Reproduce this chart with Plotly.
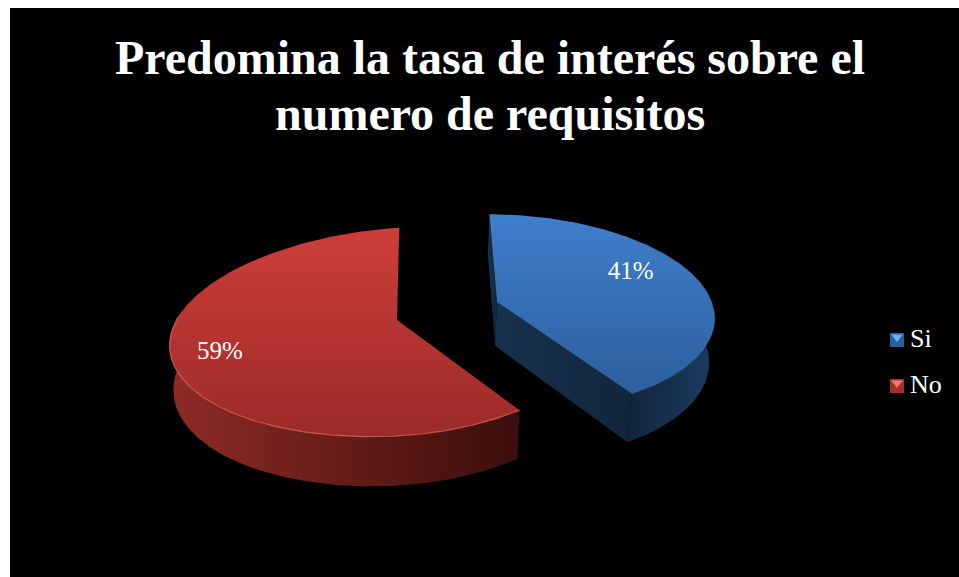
# plot.py
# Exploded 3D-look pie drawn as projected polygons, Plotly has no 3D pie

import numpy as np
import plotly.graph_objects as go

categories = ['Si', 'No']
values = [41, 59]
title_lines = ['Predomina la tasa de interés sobre el', 'numero de requisitos']

# view settings, all in page pixels
first_angle = 0.9
vanish_x = 390
persp = 0.115
radius_x = 226
radius_y = 102.6
depth = 44
bottom_scale = 0.983
apex = {'Si': (497, 302), 'No': (397, 320)}
scale = {'Si': 0.95, 'No': 1.0}
tilt = {'Si': 0, 'No': 14}
right_squeeze = {'Si': 1.0, 'No': 0.93}
label_uv = {'Si': (0.66, 0.31), 'No': (-0.765, -0.21)}
visible_wall = {'Si': (70, None), 'No': (None, 288)}
legend_pos = {'Si': (897, 340), 'No': (897, 386)}
legend_text_x = 910

theme = {
    'Si': {'top': ['#2d5f9d', '#3f7fcc'], 'wall': ['#12253c', '#1b3c62'], 'inner': ['#17324f', '#12253c'],
           'rim': 'rgba(80,135,205,0.35)', 'swatch': ['#2a5f9f', '#6fb1f0']},
    'No': {'top': ['#9c2b28', '#cd3e39'], 'wall': ['#8f2b26', '#3b0e0c'], 'inner': ['#8f2b26', '#8f2b26'],
           'rim': 'rgba(235,110,100,0.7)', 'swatch': ['#a52f2b', '#f07a72']},
}


def project(name, u, v, lower=False):
    """Slice coordinates (unit disc, v pointing back) to page pixels"""
    ax, ay = apex[name]
    u = np.asarray(u, dtype=float)
    u = np.where(u > 0, u * right_squeeze[name], u) * scale[name]
    v = np.asarray(v, dtype=float) * scale[name]
    p = 1 / (1 + persp * v)
    x = vanish_x + (ax - vanish_x + radius_x * u) * p
    y = ay - radius_y * v * p - tilt[name] * u
    if lower:
        x = vanish_x + (x - vanish_x) * bottom_scale
        y = y + depth * p
    return x, y


def arc(start, end):
    theta = np.radians(np.linspace(start, end, 200))
    return np.sin(theta), np.cos(theta)


def polygon(xs, ys, colors, kind):
    return go.Scatter(x=xs, y=ys, mode='lines', fill='toself', line={'width': 0}, hoverinfo='skip', showlegend=False,
                      fillgradient={'type': kind, 'colorscale': [[0, colors[0]], [1, colors[1]]]})


fig = go.Figure()
angle = first_angle
for name, value in zip(categories, values):
    start = angle
    end = angle + value * 3.6
    angle = end
    colors = theme[name]

    # outer wall
    w0 = max(start, visible_wall[name][0] or start)
    w1 = min(end, visible_wall[name][1] or end)
    u, v = arc(w0, w1)
    tx, ty = project(name, u, v)
    bx, by = project(name, u, v, lower=True)
    fig.add_trace(polygon(np.r_[tx, bx[::-1]], np.r_[ty, by[::-1]], colors['wall'], 'horizontal'))

    # cut walls, only the side facing the camera shows
    if name == 'Si':
        for ang in (start, end):
            ex = np.array([0, np.sin(np.radians(ang))])
            ey = np.array([0, np.cos(np.radians(ang))])
            tx, ty = project(name, ex, ey)
            bx, by = project(name, ex, ey, lower=True)
            fig.add_trace(polygon(np.r_[tx, bx[::-1]], np.r_[ty, by[::-1]], colors['inner'], 'horizontal'))

    # top face
    u, v = arc(start, end)
    tx, ty = project(name, np.r_[0, u, 0], np.r_[0, v, 0])
    fig.add_trace(polygon(tx, ty, colors['top'], 'vertical'))

    # light rim on the front edge
    u, v = arc(max(start, 95), min(end, 280))
    tx, ty = project(name, u, v)
    fig.add_trace(go.Scatter(x=tx, y=ty, mode='lines', line={'color': colors['rim'], 'width': 1.2},
                             hoverinfo='skip', showlegend=False))

    # percent label
    lx, ly = project(name, label_uv[name][0], label_uv[name][1])
    fig.add_trace(go.Scatter(x=[lx], y=[ly], mode='text', text=[f'{value}%'], textposition='middle center',
                             textfont={'color': 'white', 'size': 25, 'family': 'Liberation Serif'},
                             hoverinfo='skip', showlegend=False))

# legend by hand, the built-in one keeps too wide a gap between swatch and text
for name in categories:
    lx, ly = legend_pos[name]
    fig.add_trace(go.Scatter(x=[lx], y=[ly], mode='markers', hoverinfo='skip', showlegend=False,
                             marker={'symbol': 'square', 'size': 14, 'color': theme[name]['swatch'][0]}))
    fig.add_trace(go.Scatter(x=[lx], y=[ly - 3], mode='markers', hoverinfo='skip', showlegend=False,
                             marker={'symbol': 'triangle-down', 'size': 10, 'color': theme[name]['swatch'][1]}))
    fig.add_trace(go.Scatter(x=[legend_text_x], y=[ly], mode='text', text=[name], textposition='middle right',
                             textfont={'color': 'white', 'size': 26, 'family': 'Liberation Serif'},
                             hoverinfo='skip', showlegend=False))

fig.update_layout(
    width=959, height=577, autosize=False,
    margin={'l': 10, 'r': 0, 't': 8, 'b': 0},
    paper_bgcolor='white', plot_bgcolor='black',
    showlegend=False,
    title={'text': title_lines[0], 'x': 490 / 959, 'xanchor': 'center', 'y': 1 - 57 / 577, 'yanchor': 'middle',
           'font': {'family': 'Liberation Serif', 'size': 48, 'color': 'white', 'weight': 'bold'}},
    annotations=[{'text': title_lines[1], 'x': 490, 'y': 113, 'xref': 'x', 'yref': 'y', 'showarrow': False,
                  'font': {'family': 'Liberation Serif', 'size': 48, 'color': 'white', 'weight': 'bold'}}],
    xaxis={'range': [10, 959], 'visible': False},
    yaxis={'range': [577, 8], 'visible': False},
)

# drop the default body margin so the figure lines up with the window
fig.write_html("out.html", post_script="document.body.style.margin='0';", config={'displayModeBar': False})
